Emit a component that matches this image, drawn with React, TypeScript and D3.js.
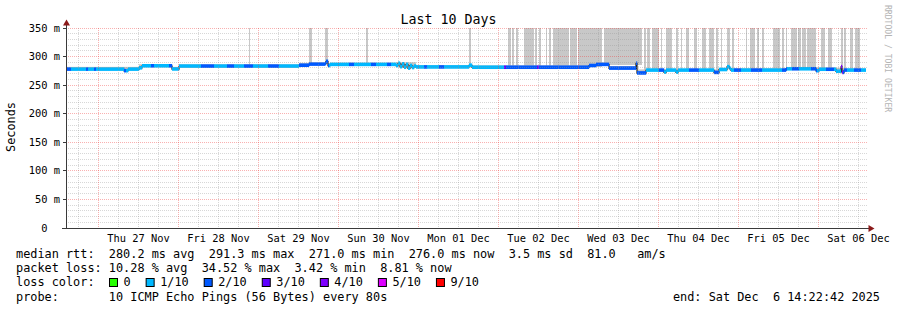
import React, { useRef, useEffect } from "react";
import * as d3 from "d3";

// time window: 10 days ending Sat Dec 6 14:22:42 2025
const endTime = Date.UTC(2025, 11, 6, 14, 22, 42);
const spanHours = 240;
const startTime = endTime - spanHours * 3600 * 1000;

// median rtt (ms), stepped: [hours since start, value]
const medianSteps: [number, number][] = [
  [0, 277.7], [17.4, 275], [18.6, 277.7], [21.9, 280], [22.8, 283.5],
  [31.8, 278], [33.9, 283], [69.9, 284.5], [72.9, 286.5], [77.7, 287.5],
  [78, 291.3], [78.6, 284], [79.2, 286], [99, 284], [99.6, 288],
  [100.2, 282], [100.8, 287], [101.4, 281], [102, 286], [102.6, 279.5],
  [103.2, 284], [103.8, 280.5], [104.4, 283], [105, 281.5], [120.9, 284.5],
  [121.8, 281], [156.9, 284], [159, 286], [162.9, 279.5], [171, 288],
  [171.3, 271], [174, 276], [179.4, 272.5], [180, 276], [183, 272.5],
  [183.6, 276], [194.4, 272], [195.9, 277], [198.3, 282], [199, 279],
  [199.5, 276], [216, 278.3], [225, 275], [225.9, 277.5], [231, 274],
  [232.5, 282], [232.8, 272], [233.4, 276],
];

// loss bucket (pings lost out of 10): [hours since start, bucket]
const lossSteps: [number, number][] = [
  [0, 2], [1.5, 1], [6, 2], [6.6, 1], [8.4, 2], [9, 1], [17.4, 2], [18, 1],
  [25.5, 2], [26.4, 1], [30.9, 2], [31.8, 1], [40.5, 2], [44.4, 1], [48.3, 2],
  [50.4, 1], [53.4, 2], [56.1, 1], [60.6, 2], [63.9, 1], [69.9, 2], [78.9, 1],
  [84.9, 2], [86.4, 1], [91.5, 2], [93, 1], [96.3, 2], [97.5, 1], [107.4, 2],
  [108.3, 1], [111.9, 2], [113.4, 1], [131.4, 3], [132, 2], [141.3, 3],
  [141.9, 2], [174, 1], [177.9, 2], [179.4, 1], [186.9, 2], [189.9, 1],
  [194.4, 2], [195.9, 1], [200.4, 2], [202.5, 1], [205.5, 2], [208.8, 1],
  [214.8, 2], [216.3, 1], [217.8, 2], [219.9, 1], [223.5, 2], [225.3, 1],
  [228, 2], [230.4, 1], [232.5, 4], [233.1, 2], [234.3, 1], [236.4, 2],
  [238.5, 1],
];

// upper edge of the normal smoke (ms)
const smokeTopSteps: [number, number][] = [
  [0, 282], [21.9, 286.5], [31.8, 282], [33.9, 286.5], [69.9, 289],
  [99, 290], [105, 285], [121.8, 284.5], [156.9, 289.5], [162.9, 283.5],
  [171.3, 277.5], [199.5, 279.5], [216, 281.5], [225.9, 280.5], [233.4, 279],
];

// periods where the smoke runs off the top of the graph: [from h, to h]
const smokeBars: [number, number][] = [
  [54.9, 55.2], [72.9, 73.8], [77.7, 78.6], [90, 90.6], [120.9, 121.5],
  [132.6, 133.5], [133.8, 134.4], [135, 135.6], [137.4, 140.4], [140.7, 141.3],
  [141.9, 142.5], [144, 144.3], [144.9, 145.5], [146.1, 150.9], [151.2, 153.3],
  [153.6, 160.8], [161.4, 172.8], [173.4, 174], [174.3, 175.2], [175.8, 177.9],
  [178.5, 178.8], [180, 181.8], [183, 183.6], [184.5, 184.8], [186, 186.9],
  [188.4, 189.3], [190.8, 192], [192.9, 194.4], [195, 195.6], [196.5, 196.8],
  [198.3, 199.2], [199.8, 200.4], [204, 204.3], [205.2, 206.7], [207.3, 207.9],
  [208.8, 209.4], [212.1, 214.2], [214.8, 215.4], [216, 216.3], [217.5, 219.3],
  [219.6, 220.5], [220.8, 222], [222.3, 225], [226.5, 227.7], [228.6, 229.8],
  [232.5, 233.1], [233.4, 234], [235.2, 236.1], [236.7, 238.2],
];

const lossColors: Record<number, string> = {
  0: "#26ff00", 1: "#00b8ff", 2: "#0059ff", 3: "#5e00ff",
  4: "#7e00ff", 5: "#dd00ff", 9: "#ff0000",
};
const legendLabels = ["0", "1/10", "2/10", "3/10", "4/10", "5/10", "9/10"];
const legendBuckets = [0, 1, 2, 3, 4, 5, 9];

const yTickValues = [0, 0.05, 0.1, 0.15, 0.2, 0.25, 0.3, 0.35];
const yTickLabels = ["0  ", "50 m", "100 m", "150 m", "200 m", "250 m", "300 m", "350 m"];

const title = "Last 10 Days";
const statsRtt = "median rtt:  280.2 ms avg  291.3 ms max  271.0 ms min  276.0 ms now  3.5 ms sd  81.0   am/s";
const statsLoss = "packet loss: 10.28 % avg  34.52 % max  3.42 % min  8.81 % now";
const probeText = "probe:       10 ICMP Echo Pings (56 Bytes) every 80s";
const endText = "end: Sat Dec  6 14:22:42 2025";

const FONT = "'DejaVu Sans Mono', monospace";

function stepAt(steps: [number, number][], h: number) {
  let v = steps[0][1];
  for (const s of steps) {
    if (s[0] <= h) v = s[1];
    else break;
  }
  return v;
}

export default function App() {
  const ref = useRef<SVGSVGElement>(null);

  useEffect(() => {
    const width = 897;
    const height = 310;
    const svg = d3.select(ref.current);
    svg.selectAll("*").remove();
    svg.attr("width", width).attr("height", height);

    svg.append("rect").attr("width", width).attr("height", height).attr("fill", "#fff");

    const x = d3.scaleUtc()
      .domain([new Date(startTime), new Date(endTime)])
      .range([66, 866]);
    const y = d3.scaleLinear().domain([0, 0.35]).range([228, 28]);
    const hx = (h: number) => x(new Date(startTime + h * 3600 * 1000));
    const snap = (v: number) => Math.floor(v) + 0.5;

    svg.append("clipPath").attr("id", "plot")
      .append("rect").attr("x", 66).attr("y", 28).attr("width", 800).attr("height", 200);

    const plot = svg.append("g").attr("clip-path", "url(#plot)");

    // tall smoke
    plot.append("g").selectAll("rect")
      .data(smokeBars)
      .enter()
      .append("rect")
      .attr("x", d => Math.round(hx(d[0])))
      .attr("width", d => Math.max(1, Math.round(hx(d[1])) - Math.round(hx(d[0]))))
      .attr("y", y(0.35))
      .attr("height", d => y(stepAt(medianSteps, d[0]) / 1000) - y(0.35))
      .attr("fill", "#c8c8c8")
      .attr("shape-rendering", "crispEdges");

    // intervals for the median band and normal smoke
    const breaks = Array.from(new Set([
      ...medianSteps.map(d => d[0]),
      ...lossSteps.map(d => d[0]),
      ...smokeTopSteps.map(d => d[0]),
      spanHours,
    ])).sort((a, b) => a - b);
    const pieces = breaks.slice(0, -1).map((h, i) => ({
      h0: h,
      h1: breaks[i + 1],
      med: stepAt(medianSteps, h),
      loss: stepAt(lossSteps, h),
      top: stepAt(smokeTopSteps, h),
    }));

    plot.append("g").selectAll("rect")
      .data(pieces.filter(p => p.top > p.med))
      .enter()
      .append("rect")
      .attr("x", d => hx(d.h0))
      .attr("width", d => hx(d.h1) - hx(d.h0))
      .attr("y", d => y(d.top / 1000))
      .attr("height", d => y(d.med / 1000) - y(d.top / 1000))
      .attr("fill", "#c4c4c4");

    // grid, drawn over the smoke
    const grid = svg.append("g").attr("stroke-width", 1).attr("stroke-dasharray", "1,1");
    const minorY = d3.range(1, 36).map(i => i / 100).filter(v => Math.round(v * 100) % 5 !== 0);
    grid.selectAll(".hmin").data(minorY).enter().append("line")
      .attr("x1", 66).attr("x2", 867)
      .attr("y1", d => snap(y(d))).attr("y2", d => snap(y(d)))
      .attr("stroke", "rgba(150,150,150,0.38)");
    const hours6 = d3.utcHour.every(6)!.range(new Date(startTime), new Date(endTime))
      .filter(d => d.getUTCHours() !== 0);
    grid.selectAll(".vmin").data(hours6).enter().append("line")
      .attr("x1", d => snap(x(d))).attr("x2", d => snap(x(d)))
      .attr("y1", 28).attr("y2", 228)
      .attr("stroke", "rgba(150,150,150,0.38)");
    grid.selectAll(".hmaj").data(yTickValues.slice(1)).enter().append("line")
      .attr("x1", 66).attr("x2", 867)
      .attr("y1", d => snap(y(d))).attr("y2", d => snap(y(d)))
      .attr("stroke", "rgba(240,60,60,0.4)");
    const days = d3.utcDay.range(new Date(startTime), new Date(endTime));
    grid.selectAll(".vmaj").data(days).enter().append("line")
      .attr("x1", d => snap(x(d))).attr("x2", d => snap(x(d)))
      .attr("y1", 28).attr("y2", 228)
      .attr("stroke", "rgba(240,60,60,0.4)");

    // median: dark step line, then coloured band by loss
    const line = d3.line<[number, number]>()
      .x(d => hx(d[0]))
      .y(d => y(d[1] / 1000))
      .curve(d3.curveStepAfter);
    plot.append("path")
      .attr("d", line([...medianSteps, [spanHours, medianSteps[medianSteps.length - 1][1]]]))
      .attr("fill", "none")
      .attr("stroke", "#202020")
      .attr("stroke-width", 1.2);

    plot.append("g").selectAll("rect")
      .data(pieces)
      .enter()
      .append("rect")
      .attr("x", d => hx(d.h0))
      .attr("width", d => hx(d.h1) - hx(d.h0) + 0.2)
      .attr("y", d => y(d.med / 1000) - 2)
      .attr("height", 3.6)
      .attr("fill", d => lossColors[d.loss]);

    // axes
    const axis = svg.append("g").attr("stroke", "#3a3a3a").attr("stroke-width", 1);
    axis.append("line").attr("x1", 66.5).attr("x2", 66.5).attr("y1", 229).attr("y2", 24);
    axis.append("line").attr("x1", 62).attr("x2", 869).attr("y1", 228.5).attr("y2", 228.5);
    axis.selectAll(".yt").data(yTickValues).enter().append("line")
      .attr("x1", 63).attr("x2", 66)
      .attr("y1", d => snap(y(d))).attr("y2", d => snap(y(d)));
    svg.append("path").attr("d", "M66.5,19.5L63,25.5L70,25.5Z").attr("fill", "#8b1a1a");
    svg.append("path").attr("d", "M874.5,228.5L868.5,225L868.5,232Z").attr("fill", "#8b1a1a");

    const text = (sel: any) => sel.attr("font-family", FONT).attr("fill", "#000").style("white-space", "pre");

    svg.append("g").selectAll("text")
      .data(yTickValues)
      .enter()
      .append("text")
      .call(text)
      .attr("font-size", 10.4)
      .attr("text-anchor", "end")
      .attr("x", 60)
      .attr("y", d => snap(y(d)) + 3.5)
      .text((d, i) => yTickLabels[i]);

    const noons = d3.utcDay.range(new Date(startTime), new Date(endTime))
      .map(d => d3.utcHour.offset(d, 12));
    svg.append("g").selectAll("text")
      .data(noons)
      .enter()
      .append("text")
      .call(text)
      .attr("font-size", 10.4)
      .attr("text-anchor", "middle")
      .attr("x", d => x(d) + 0.5)
      .attr("y", 241.5)
      .text(d => d3.utcFormat("%a %d %b")(d));

    svg.append("text").call(text)
      .attr("font-size", 13.3).attr("text-anchor", "middle")
      .attr("x", 448.5).attr("y", 24.3).text(title);

    svg.append("text").call(text)
      .attr("font-size", 11.86).attr("text-anchor", "middle")
      .attr("transform", "translate(15,127) rotate(-90)").text("Seconds");

    svg.append("text").call(text)
      .attr("font-size", 8.1).attr("fill", "#b4b4b4")
      .attr("transform", "translate(885,5) rotate(90)").text("RRDTOOL / TOBI OETIKER");

    // legend
    const leg = svg.append("g");
    leg.append("text").call(text).attr("font-size", 11.86).attr("x", 16).attr("y", 257.5).text(statsRtt);
    leg.append("text").call(text).attr("font-size", 11.86).attr("x", 16).attr("y", 272).text(statsLoss);
    leg.append("text").call(text).attr("font-size", 11.86).attr("x", 16).attr("y", 286.3).text("loss color:");
    leg.append("text").call(text).attr("font-size", 11.86).attr("x", 16).attr("y", 300.7).text(probeText);
    leg.append("text").call(text).attr("font-size", 11.86).attr("text-anchor", "end")
      .attr("x", 880).attr("y", 300.7).text(endText);

    let bx = 109.5;
    legendLabels.forEach((label, i) => {
      leg.append("rect")
        .attr("x", bx).attr("y", 278.5).attr("width", 8).attr("height", 8)
        .attr("fill", lossColors[legendBuckets[i]])
        .attr("stroke", "#000").attr("stroke-width", 1);
      leg.append("text").call(text).attr("font-size", 11.86)
        .attr("x", bx + 14).attr("y", 286.3).text(label);
      bx += 29.5 + 7.14 * label.length;
    });
  }, []);

  return <svg ref={ref} style={{ position: "absolute", left: 0, top: 0, display: "block" }}></svg>;
}
